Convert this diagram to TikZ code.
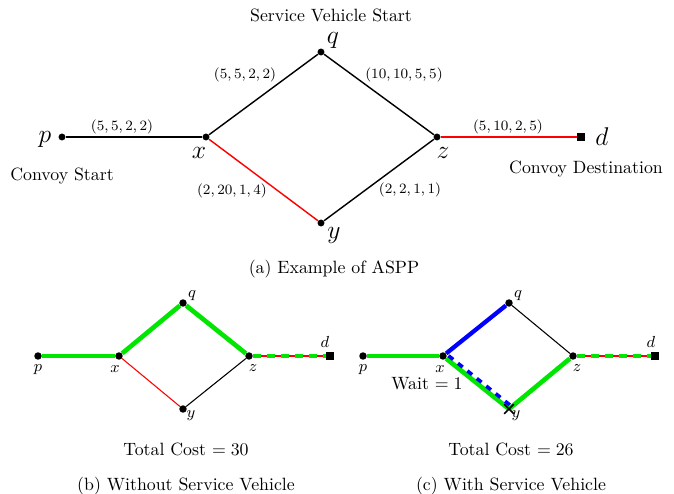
\documentclass[tikz,border=0pt]{standalone}
\usetikzlibrary{shapes.misc}
\definecolor{pgreen}{RGB}{0,230,0}
\begin{document}
\begin{tikzpicture}[x=0.5618pt,y=-0.5618pt,
  dot/.style={circle,fill=black,inner sep=0pt,minimum size=3.9pt},
  sdot/.style={circle,fill=black,inner sep=0pt,minimum size=4.2pt},
  sq/.style={rectangle,fill=black,inner sep=0pt,minimum size=4.6pt},
  ssq/.style={rectangle,fill=black,inner sep=0pt,minimum size=4.2pt},
  bigl/.style={font=\Large,inner sep=0pt},
  smalll/.style={font=\small,inner sep=0pt},
  elab/.style={font=\footnotesize},
  txt/.style={font=\normalsize},
  plain/.style={line width=0.8pt},
  thinl/.style={line width=0.6pt},
  gpath/.style={pgreen,line width=2.6pt},
  bpath/.style={blue,line width=2.4pt},
  gdash/.style={pgreen,line width=2.6pt,dash pattern=on 4.5pt off 3.4pt},
  bdash/.style={blue,line width=2pt,dash pattern=on 3.4pt off 3.4pt},
  xmark/.style={cross out,draw=black,line width=0.8pt,inner sep=0pt,minimum size=4.6pt},
]
\useasboundingbox (0,0) rectangle (674,494);
% ---------- (a) ----------
\node[dot] (p) at (62,137) {};
\node[dot] (x) at (206,137) {};
\node[dot] (q) at (321,52) {};
\node[dot] (z) at (437,137) {};
\node[dot] (y) at (321,223) {};
\node[sq] (d) at (581,137) {};
\draw[plain] (p) -- (x);
\draw[plain] (x) -- (q);
\draw[plain] (q) -- (z);
\draw[plain,red] (x) -- (y);
\draw[plain] (y) -- (z);
\draw[plain,red] (z) -- (d);
\node[bigl] (lp) at (45,139) {$p$};
\node[bigl] (lx) at (199,153) {$x$};
\node[bigl] (lq) at (333,40) {$q$};
\node[bigl] (lz) at (443,153) {$z$};
\node[bigl] (ly) at (334,235) {$y$};
\node[bigl] (ld) at (602,137) {$d$};
\node[txt,inner sep=0pt] (svs) at (331,15) {Service Vehicle Start};
\node[txt] (cs) at (62,176) {Convoy Start};
\node[txt] (cd) at (586,169) {Convoy Destination};
\node[elab] (e1) at (122,127) {$(5,5,2,2)$};
\node[elab] (e2) at (245,75) {$(5,5,2,2)$};
\node[elab] (e3) at (404,75) {$(10,10,5,5)$};
\node[elab] (e4) at (508,127) {$(5,10,2,5)$};
\node[elab] (e5) at (232,191) {$(2,20,1,4)$};
\node[elab] (e6) at (410,190) {$(2,2,1,1)$};
\node[txt] (capa) at (334,269) {(a) Example of ASPP};
% ---------- (b) ----------
\node[sdot] (p1) at (38,356) {};
\node[sdot] (x1) at (119,356) {};
\node[sdot] (q1) at (183,303) {};
\node[sdot] (z1) at (249,356) {};
\node[sdot] (y1) at (183,409) {};
\node[ssq] (d1) at (330,356) {};
\draw[gpath] (p1) -- (x1);
\draw[gpath] (x1) -- (q1);
\draw[gpath] (q1) -- (z1);
\draw[thinl,red] (x1) -- (y1);
\draw[thinl] (y1) -- (z1);
\draw[thinl,red] (z1) -- (d1);
\draw[gdash] (z1) -- (d1);
\node[smalll] (lp1) at (38,370) {$p$};
\node[smalll] (lx1) at (115,369) {$x$};
\node[smalll] (lq1) at (192,296) {$q$};
\node[smalll] (lz1) at (253,368) {$z$};
\node[smalll] (ly1) at (191,416) {$y$};
\node[smalll] (ld1) at (325,342) {$d$};
\node[txt] (tc1) at (186,449) {Total Cost $=30$};
\node[txt] (capb) at (186,486) {(b) Without Service Vehicle};
% ---------- (c) ----------
\node[sdot] (p2) at (363,356) {};
\node[sdot] (x2) at (443,356) {};
\node[sdot] (q2) at (509,303) {};
\node[sdot] (z2) at (573,356) {};
\coordinate (y2) at (509,409);
\node[ssq] (d2) at (655,356) {};
\draw[gpath] (p2) -- (x2);
\draw[bpath] (x2) -- (q2);
\draw[thinl] (q2) -- (z2);
\draw[gpath] (x2) -- (y2);
\draw[bdash,transform canvas={shift={(1.3pt,1.6pt)}}] (x2) -- (y2);
\draw[gpath] (y2) -- (z2);
\draw[thinl,red] (z2) -- (d2);
\draw[gdash] (z2) -- (d2);
\node[xmark] (y2x) at (y2) {};
\node[smalll] (lp2) at (363,370) {$p$};
\node[smalll] (lx2) at (440,369) {$x$};
\node[smalll] (lq2) at (518,296) {$q$};
\node[smalll] (lz2) at (577,368) {$z$};
\node[smalll] (ly2) at (516,416) {$y$};
\node[smalll] (ld2) at (651,342) {$d$};
\node[txt] (wait) at (427,384) {Wait $=1$};
\node[txt] (tc2) at (511,449) {Total Cost $=26$};
\node[txt] (capc) at (511,486) {(c) With Service Vehicle};
\end{tikzpicture}
\end{document}
